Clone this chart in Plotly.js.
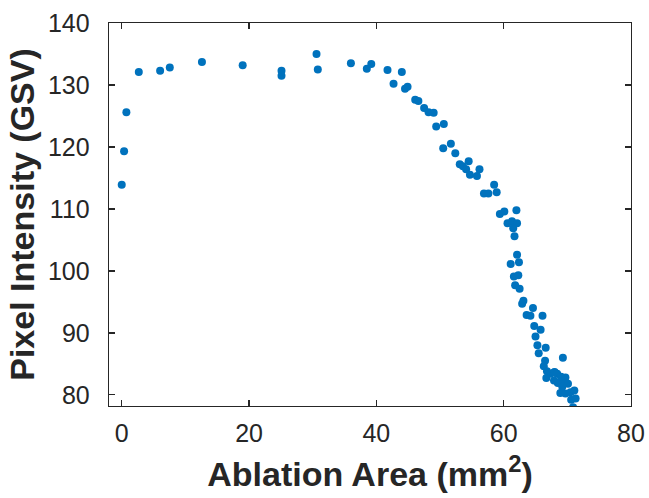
<!DOCTYPE html>
<html>
<head>
<meta charset="utf-8">
<script src="https://cdn.plot.ly/plotly-3.0.1.min.js"></script>
<style>html,body{margin:0;padding:0;background:#fff;}#chart{width:649px;height:498px;}</style>
</head>
<body>
<div id="chart"></div>
<script>
const ablationArea = [0, 0.37, 0.73, 2.68, 6.03, 7.55, 12.6, 19.0, 25.1, 25.1, 30.6, 30.8, 36.0, 38.5, 39.2,
  41.75, 44.0, 42.7, 44.5, 44.9, 46.1, 46.6, 47.5, 48.2, 49.0, 49.4, 50.6, 50.5, 51.7, 52.4,
  53.1, 53.6, 54.5, 54.1, 54.7, 55.8, 56.2, 56.9, 57.6, 58.5, 58.9, 59.4, 60.1, 62.0, 60.6,
  61.3, 62.1, 61.5, 61.7, 62.1, 62.4, 61.1, 61.6, 62.3, 61.8, 62.5, 62.9, 63.1, 64.6, 63.6,
  64.2, 66.1, 64.8, 65.8, 65.0, 65.3, 66.6, 65.5, 69.3, 66.5, 66.3, 66.8, 67.3, 68.0, 68.4,
  66.7, 67.9, 68.5, 69.7, 69.4, 70.1, 68.9, 69.7, 70.5, 71.1, 70.6, 71.3, 70.9, 67.9, 69.0, 69.2];
const pixelIntensity = [113.9, 119.3, 125.6, 132.1, 132.3, 132.8, 133.7, 133.2, 132.3, 131.5, 135.0, 132.5, 133.5, 132.6, 133.4,
  132.4, 132.1, 130.2, 129.4, 129.7, 127.6, 127.4, 126.3, 125.6, 125.5, 123.3, 123.7, 119.8, 120.5, 119.0,
  117.2, 116.9, 117.7, 116.4, 115.5, 115.3, 116.4, 112.5, 112.5, 113.9, 112.7, 109.2, 109.6, 109.8, 107.7,
  108.0, 107.7, 106.9, 105.6, 102.6, 101.4, 101.1, 99.1, 99.3, 97.7, 97.1, 94.7, 95.2, 94.0, 92.9,
  92.75, 92.75, 91.1, 90.5, 89.4, 88.0, 87.6, 86.7, 86.0, 85.5, 84.6, 83.8, 83.4, 83.7, 83.4,
  82.7, 82.3, 81.9, 82.8, 82.0, 81.8, 80.3, 80.2, 80.4, 80.7, 79.2, 79.4, 78.0, 83.6, 82.9, 81.3];
const xTicks = [0, 20, 40, 60, 80];
const yTicks = [80, 90, 100, 110, 120, 130, 140];

const axisColor = '#262626';
const fontFam = '"Liberation Sans", Arial, Helvetica, sans-serif';

const trace = {
  x: ablationArea, y: pixelIntensity, type: 'scatter', mode: 'markers',
  marker: {color: '#0072BD', size: 8, line: {width: 0}},
  hoverinfo: 'x+y'
};

const commonAxis = {
  showgrid: false, zeroline: false, showline: true, linecolor: axisColor, linewidth: 1.3,
  mirror: 'ticks', ticks: 'inside', ticklen: 6, tickwidth: 1.3, tickcolor: axisColor,
  tickfont: {family: fontFam, size: 25, color: axisColor}
};

const layout = {
  width: 649, height: 498,
  margin: {l: 109, r: 18, t: 23, b: 92},
  paper_bgcolor: '#fff', plot_bgcolor: '#fff',
  showlegend: false,
  xaxis: Object.assign({}, commonAxis, {
    range: [-2, 80], tickvals: xTicks, ticktext: xTicks.map(String), ticklabelstandoff: 5,
    title: {text: '<b>Ablation Area (mm<sup>2</sup>)</b>', font: {family: fontFam, size: 34, color: axisColor}, standoff: 16}
  }),
  yaxis: Object.assign({}, commonAxis, {
    range: [78.2, 140], tickvals: yTicks, ticktext: yTicks.map(String), ticklabelstandoff: 13,
    title: {text: '<b>Pixel Intensity (GSV)</b>', font: {family: fontFam, size: 34, color: axisColor}, standoff: 3}
  })
};

Plotly.newPlot('chart', [trace], layout, {displayModeBar: false, staticPlot: true});
</script>
</body>
</html>
